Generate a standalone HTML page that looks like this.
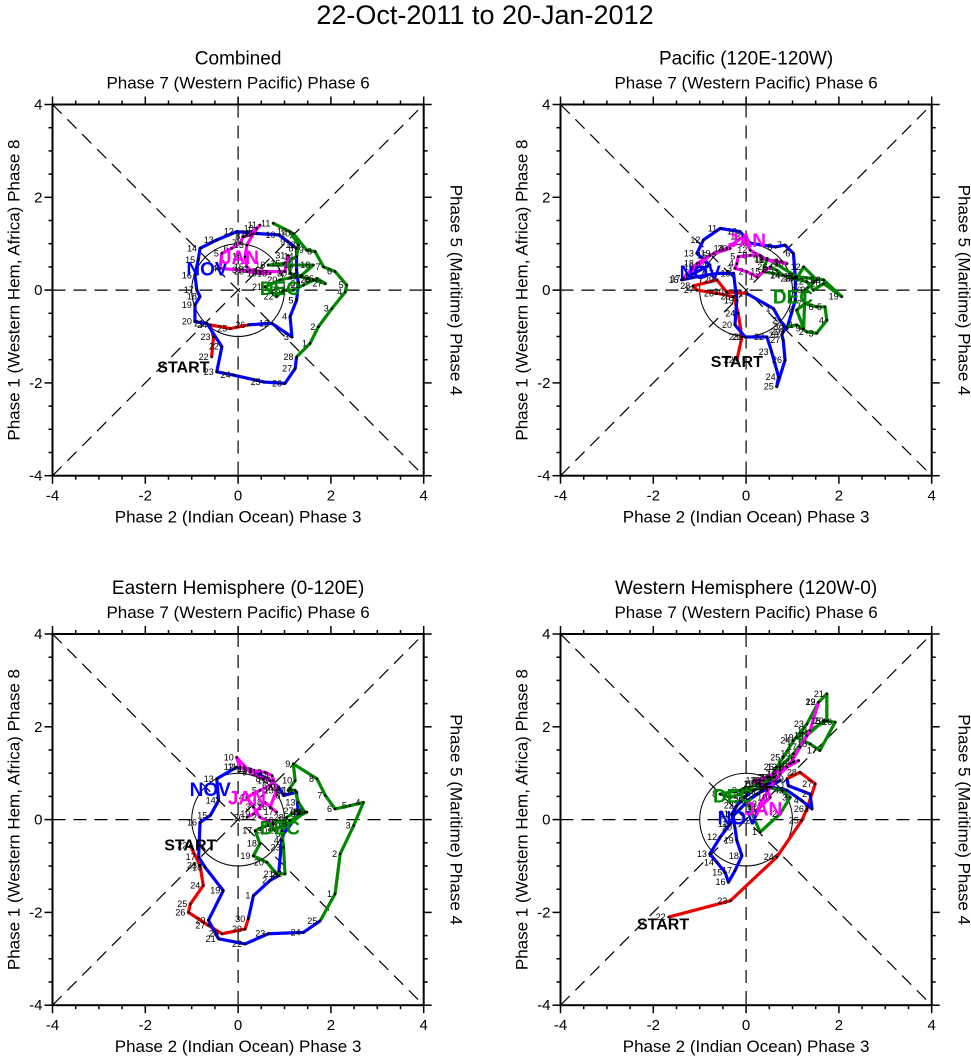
<!DOCTYPE html>
<html><head><meta charset="utf-8"><style>
body{margin:0;background:#fff;}
svg{display:block;font-family:"Liberation Sans",sans-serif;}
</style></head><body>
<svg id="chart" width="971" height="1058" viewBox="0 0 971 1058" xmlns="http://www.w3.org/2000/svg">
<text x="485" y="24" font-size="27" text-anchor="middle">22-Oct-2011 to 20-Jan-2012</text>
</svg>
<script>
// ---- data (RMM1, RMM2 values) ----
const p1Oct=[[-0.57,-1.44],[-0.53,-1.01],[-0.60,-0.75],[-0.17,-0.83],[0.22,-0.75]];
const p1Nov=[[0.62,-0.72],[0.73,-0.72],[1.16,-1.01],[1.12,-0.57],[1.26,-0.22],[1.30,0.14],[1.26,0.43],[1.26,0.90],[1.08,1.04],[0.87,1.19],[0.40,1.22],[-0.03,1.26],[-0.46,1.08],[-0.82,0.90],[-0.86,0.65],[-0.93,0.32],[-0.89,0],[-0.82,-0.14],[-0.93,-0.32],[-0.93,-0.68],[-0.67,-0.72],[-0.35,-1.22],[-0.46,-1.76],[-0.10,-1.83],[0.55,-1.98],[1.01,-2.01],[1.23,-1.69],[1.26,-1.44]];
const p1Dec=[[1.55,-1.15],[1.73,-0.79],[2.02,-0.40],[2.31,-0.04],[2.34,0.11],[2.09,0.40],[1.84,0.50],[1.66,0.83],[1.48,0.86],[1.19,1.22],[0.76,1.44],[1.12,1.26],[1.30,0.97],[1.26,0.72],[0.98,0.57],[0.65,0.54],[1.26,0.54],[1.62,0.54],[1.37,0.32],[0.91,0.22],[0.58,0.07],[0.83,-0.14],[0.98,0],[1.19,0],[1.41,0.11],[1.70,0.25],[1.88,0.14],[1.62,0.22],[1.34,0.29],[1.12,0.36],[1.08,0.75]];
const p1Jan=[[1.01,0.40],[0.47,0.40],[0.04,0.43],[-0.39,0.47],[-0.35,0.79],[-0.14,0.90],[0.04,1.01],[0.11,1.15],[0.26,1.19],[0.40,1.33],[0.47,1.40],[0.33,1.22],[0.19,0.97],[0.15,0.72],[0.19,0.50],[0.26,0.43],[0.62,0.40],[0.69,0.36],[0.47,0.36],[0.19,0.40]];

const p2Oct=[[-0.20,-1.51],[-0.09,-1.01],[-0.17,-0.50],[-0.27,-0.14],[-0.63,-0.07],[-1.06,0],[-1.14,0.09],[-0.63,0.22],[-0.42,-0.04],[0.01,-0.07]];
const p2Nov=[[0.59,-0.40],[0.73,-0.65],[0.88,-0.83],[1.06,-0.22],[1.06,0.29],[1.02,0.79],[0.84,0.97],[0.63,0.93],[0.09,1.01],[-0.13,1.26],[-0.56,1.33],[-0.92,1.08],[-1.06,0.79],[-0.78,0.54],[-1.39,0.22],[-1.06,0.29],[-0.63,0.36],[-0.27,0.36],[-0.20,-0.22],[-0.24,-0.75],[-0.02,-1.01],[0.45,-1.01],[0.55,-1.33],[0.70,-1.87],[0.66,-2.08],[0.84,-1.51],[0.80,-1.08],[0.77,-0.97],[0.80,-0.90],[0.88,-0.79]];
const p2Dec=[[1.09,-0.75],[1.31,-0.90],[1.52,-0.93],[1.74,-0.65],[1.70,-0.36],[1.52,-0.36],[1.27,-0.29],[1.09,-0.43],[1.24,-0.83],[1.27,0],[1.52,0.22],[1.24,0.50],[1.09,0.25],[0.80,0.32],[0.37,0.40],[0.45,0.68],[1.09,0.29],[1.67,0.22],[2.06,-0.14],[1.67,0.14],[1.45,0],[1.31,0.18],[1.02,0.25],[0.80,0.32],[0.66,0.43],[0.52,0.50]];
const p2Jan=[[0.23,0.29],[0.01,0.40],[-0.24,0.47],[-0.20,0.57],[-0.17,0.72],[0.09,0.75],[0.30,0.75],[0.45,0.65],[0.77,0.61],[0.88,0.57],[0.45,0.65],[0.09,0.86],[-0.06,1.15],[-0.42,0.90],[-0.78,0.75],[-1.06,0.50],[-1.35,0.25],[-1.06,0.57],[-0.70,0.79],[-0.34,0.90]];

const p3Oct=[[-1.03,-0.56],[-0.82,-0.99],[-0.75,-1.42],[-1.03,-1.82],[-1.07,-2.00],[-0.64,-2.28],[-0.35,-2.46],[0.15,-2.36],[0.22,-2.14]];
const p3Nov=[[0.33,-1.64],[0.69,-1.31],[0.87,-1.21],[0.94,-0.45],[0.98,-0.31],[1.30,0.12],[1.26,0.59],[0.98,0.52],[0.87,0.70],[0.69,0.84],[0.26,1.09],[-0.03,1.13],[-0.46,0.88],[-0.42,0.41],[-0.60,0.09],[-0.82,-0.06],[-0.85,-0.81],[-0.71,-1.03],[-0.32,-1.53],[-0.64,-2.17],[-0.42,-2.57],[0.15,-2.68],[0.65,-2.46],[1.41,-2.43],[1.77,-2.18]];
const p3Dec=[[2.09,-1.60],[2.20,-0.74],[2.49,-0.13],[2.70,0.37],[2.41,0.30],[2.09,0.23],[1.88,0.52],[1.70,0.88],[1.19,1.20],[1.23,0.84],[1.08,0.63],[1.23,0.63],[1.30,0.37],[1.44,0.16],[1.12,-0.09],[0.83,-0.02],[0.37,-0.24],[0.47,-0.52],[0.33,-0.78],[0.62,-0.92],[0.83,-1.17],[1.01,-1.17],[0.98,-0.60],[0.94,-0.24],[1.12,-0.02],[1.48,0.16],[1.26,0.19],[1.05,0.05],[0.91,-0.17],[0.69,-0.24]];
const p3Jan=[[0.76,-0.09],[0.47,0.05],[0.33,0.27],[0.19,0.48],[0.47,0.63],[0.69,0.73],[0.76,0.84],[0.55,0.88],[0.26,1.02],[-0.03,1.34],[0.04,1.13],[0.26,1.06],[0.58,1.02],[0.73,0.95],[0.83,0.63],[0.69,0.27],[0.83,0.16],[0.58,0.37],[0.33,0.12],[0.19,0.05]];

const p4Oct=[[-1.67,-2.10],[-0.34,-1.75],[0.66,-0.81],[1.20,-0.02],[1.31,0.23],[1.49,0.77],[1.16,1.02],[0.88,0.88]];
const p4Nov=[[0.91,0.73],[1.38,0.55],[1.42,0.23],[1.20,0.41],[0.88,0.63],[0.55,0.70],[0.30,0.59],[0.05,0.41],[-0.13,0.23],[-0.27,0.09],[-0.34,-0.09],[-0.56,-0.38],[-0.78,-0.74],[-0.63,-0.92],[-0.45,-1.14],[-0.38,-1.35],[-0.24,-1.10],[-0.09,-0.78],[-0.20,-0.45],[-0.24,-0.17],[-0.31,0.12],[-0.20,0.30],[0.01,0.52],[0.16,0.63],[0.45,0.77],[0.73,0.84],[0.48,0.70],[0.23,0.55],[0.09,0.45],[0.01,0.41]];
const p4Dec=[[0.30,-0.27],[0.73,0.12],[0.95,0.48],[0.77,0.63],[0.45,0.70],[0.09,0.63],[-0.34,0.48],[-0.56,0.55],[-0.13,0.63],[0.30,0.77],[0.59,0.91],[0.73,1.13],[1.02,1.42],[1.31,1.81],[1.67,2.13],[1.92,2.10],[1.59,1.49],[1.38,1.63],[1.09,1.77],[1.74,2.13],[1.74,2.71],[1.56,2.53],[1.31,2.06],[1.02,1.70],[0.80,1.34],[0.66,1.13],[0.52,0.91],[0.37,0.84],[0.23,0.77]];
const p4Jan=[[0.16,0.84],[0.45,0.91],[0.73,1.06],[1.02,1.24],[1.13,1.27],[0.88,1.13],[0.59,0.98],[0.30,0.84],[0.45,0.63],[0.52,0.48],[0.30,0.27],[0.16,-0.02],[0.30,0.34],[0.52,0.70],[0.73,0.98],[0.95,1.20],[1.16,1.56],[1.38,1.92],[1.56,2.53]];

const panelTitles=["Combined","Pacific (120E-120W)","Eastern Hemisphere (0-120E)","Western Hemisphere (120W-0)"];
const tickLabels=["-4","-2","0","2","4"];
const tickValues=[-4,-2,0,2,4];
const monthLabelPos=[
 {nov:[-0.67,0.47],dec:[0.9,0.04],jan:[0.04,0.71],start:[-1.18,-1.62]},
 {nov:[-0.99,0.39],dec:[1.01,-0.14],jan:[0.02,1.08],start:[-0.2,-1.51]},
 {nov:[-0.6,0.66],dec:[0.9,-0.17],jan:[0.19,0.48],start:[-1.03,-0.52]},
 {nov:[-0.17,0.05],dec:[-0.28,0.52],jan:[0.37,0.24],start:[-1.79,-2.22]}];
const panelData=[[p1Oct,p1Nov,p1Dec,p1Jan],[p2Oct,p2Nov,p2Dec,p2Jan],[p3Oct,p3Nov,p3Dec,p3Jan],[p4Oct,p4Nov,p4Dec,p4Jan]];

const svg=document.getElementById('chart');
const NS='http://www.w3.org/2000/svg';
function mk(tag,attrs,parent){const e=document.createElementNS(NS,tag);for(const k in attrs)e.setAttribute(k,attrs[k]);(parent||svg).appendChild(e);return e;}
const S=46.4;
const origins=[[52.5,104.5],[560.5,104.5],[52.5,634],[560.5,634]];
const colors=['#ee0000','#0000ff','#008800','#ff00ff'];
const startDays=[22,1,1,1];
const names=['oct','nov','dec','jan'];

origins.forEach((o,pi)=>{
 const g=mk('g',{});
 
 
 const L=o[0],T=o[1],W=8*S,R=L+W,B=T+W,cx=L+4*S,cy=T+4*S;
 const sx=v=>cx+v*S, sy=v=>cy-v*S;
 let t=mk('text',{x:cx,y:T-40,'font-size':19,'text-anchor':'middle'},g);t.textContent=panelTitles[pi];
 
 t=mk('text',{x:cx,y:T-16,'font-size':17,'text-anchor':'middle'},g);t.textContent='Phase 7 (Western Pacific) Phase 6';
 
 t=mk('text',{x:cx,y:B+47,'font-size':17,'text-anchor':'middle'},g);t.textContent='Phase 2 (Indian Ocean) Phase 3';
 
 t=mk('text',{x:0,y:0,'font-size':17,'text-anchor':'middle',transform:`translate(${L-33},${cy}) rotate(-90)`},g);t.textContent='Phase 1 (Western Hem, Africa) Phase 8';
 
 t=mk('text',{x:0,y:0,'font-size':17,'text-anchor':'middle',transform:`translate(${R+27},${cy}) rotate(90)`},g);t.textContent='Phase 5 (Maritime) Phase 4';
 
 const dash={stroke:'#000','stroke-width':1.2,'stroke-dasharray':'13,8',fill:'none'};
 [[L,T,R,B],[L,B,R,T],[cx,T,cx,B],[L,cy,R,cy]].forEach(a=>{const l=mk('line',Object.assign({x1:a[0],y1:a[1],x2:a[2],y2:a[3]},dash),g);});
 const c=mk('circle',{cx:cx,cy:cy,r:S,fill:'none',stroke:'#000','stroke-width':1},g);
 
 const f=mk('rect',{x:L,y:T,width:W,height:W,fill:'none',stroke:'#000','stroke-width':2},g);
 
 for(let v=-4;v<=4.001;v+=0.5){
  const maj=Math.abs(v%2)<0.01, len=maj?8:4;
  mk('line',{x1:sx(v),y1:B,x2:sx(v),y2:B+len,stroke:'#000','stroke-width':1.5},g);
  mk('line',{x1:sx(v),y1:T,x2:sx(v),y2:T-len,stroke:'#000','stroke-width':1.5},g);
  mk('line',{x1:L,y1:sy(v),x2:L-len,y2:sy(v),stroke:'#000','stroke-width':1.5},g);
  mk('line',{x1:R,y1:sy(v),x2:R+len,y2:sy(v),stroke:'#000','stroke-width':1.5},g);
 }
 tickValues.forEach((v,i)=>{
  let a=mk('text',{x:sx(v),y:B+25,'font-size':15,'text-anchor':'middle'},g);a.textContent=tickLabels[i];
  
  a=mk('text',{x:L-10,y:sy(v)+5,'font-size':15,'text-anchor':'end'},g);a.textContent=tickLabels[i];
  
 });
 const ds=panelData[pi];
 ds.forEach((arr,si)=>{
  let pts=arr.slice();
  if(si>0){const prev=ds[si-1];pts=[prev[prev.length-1]].concat(pts);}
  const pl=mk('polyline',{points:pts.map(p=>sx(p[0])+','+sy(p[1])).join(' '),fill:'none',stroke:colors[si],'stroke-width':3.2,'stroke-linejoin':'round'},g);
  
 });
 ds.forEach((arr,si)=>{
  arr.forEach((p,i)=>{
   const d=mk('circle',{cx:sx(p[0]),cy:sy(p[1]),r:1.3,fill:'#000'},g);
   
   const tx=mk('text',{x:sx(p[0])-3,y:sy(p[1])+3,'font-size':9,'text-anchor':'end'},g);
   tx.textContent=String(startDays[si]+i);
   
  });
 });
 const ml=monthLabelPos[pi];
 [['nov','NOV','#0000ff'],['dec','DEC','#008800'],['jan','JAN','#ff00ff'],['start','START','#000']].forEach(m=>{
  const e=mk('text',{x:sx(ml[m[0]][0]),y:sy(ml[m[0]][1])+7,'font-size':m[0]=='start'?16:19,'font-weight':'bold','text-anchor':'middle',fill:m[2]},g);
  e.textContent=m[1];
  
 });
});
</script>
</body></html>
